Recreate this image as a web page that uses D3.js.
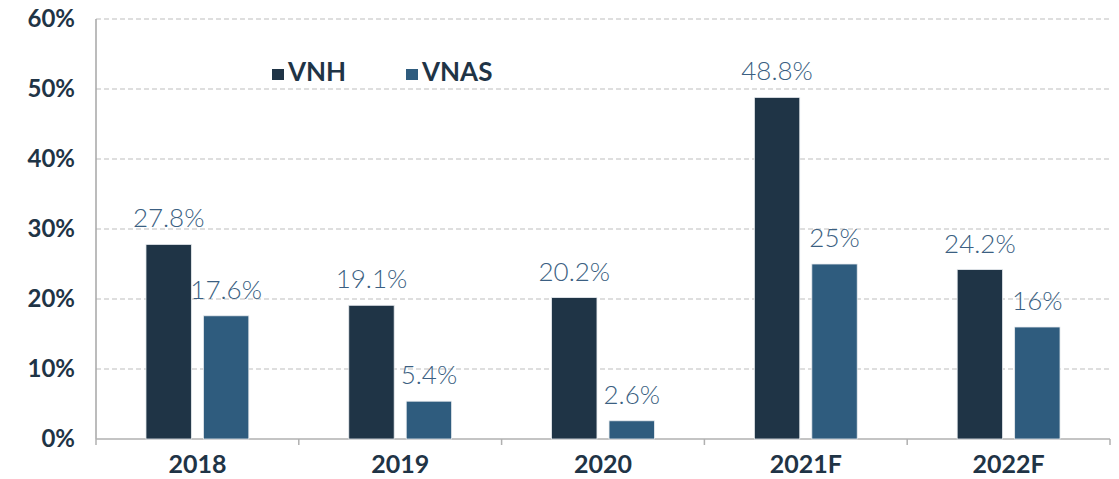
<!DOCTYPE html>
<html>
<head>
<meta charset="utf-8">
<script src="https://cdn.jsdelivr.net/npm/d3@7"></script>
<style>
  body { margin: 0; background: #fff; }
  svg { display: block; font-family: Lato, "Open Sans", sans-serif; }
</style>
</head>
<body>
<div id="chart"></div>
<script>
  // chart data
  const years = ["2018", "2019", "2020", "2021F", "2022F"];
  const seriesNames = ["VNH", "VNAS"];
  const vnh = [27.8, 19.1, 20.2, 48.8, 24.2];
  const vnas = [17.6, 5.4, 2.6, 25, 16];
  const yTicks = [0, 10, 20, 30, 40, 50, 60];

  const colors = ["#1f3446", "#2f5c7e"];

  const width = 1119, height = 479;
  const margin = {top: 19, right: 9, bottom: 40, left: 96};

  const svg = d3.select("#chart").append("svg")
    .attr("width", width)
    .attr("height", height);

  const x = d3.scaleBand()
    .domain(years)
    .range([margin.left, width - margin.right]);

  const x1 = d3.scaleBand()
    .domain(seriesNames)
    .range([0, x.bandwidth()])
    .paddingInner(0.21)
    .paddingOuter(0.87);

  const y = d3.scaleLinear()
    .domain([0, 60])
    .range([height - margin.bottom, margin.top]);

  // gridlines
  svg.append("g")
    .selectAll("line")
    .data(yTicks.filter(d => d > 0))
    .join("line")
      .attr("x1", margin.left)
      .attr("x2", width - margin.right)
      .attr("y1", d => y(d))
      .attr("y2", d => y(d))
      .attr("stroke", "#d4d4d4")
      .attr("stroke-width", 1.5)
      .attr("stroke-dasharray", "5,3");

  // y labels
  svg.append("g")
    .selectAll("text")
    .data(yTicks)
    .join("text")
      .attr("x", 75)
      .attr("y", d => y(d) + 8)
      .attr("text-anchor", "end")
      .attr("fill", "#1f3446")
      .style("font-size", "24px")
      .style("font-weight", "bold")
      .text(d => d + "%");

  // y axis line
  svg.append("line")
    .attr("x1", margin.left).attr("x2", margin.left)
    .attr("y1", margin.top).attr("y2", y(0))
    .attr("stroke", "#a6a6a6").attr("stroke-width", 1.5);

  // x axis
  const xAxis = d3.axisBottom(x).tickSize(0).tickFormat(d => d);
  const gx = svg.append("g")
    .attr("transform", `translate(0,${y(0)})`)
    .call(xAxis);
  gx.select(".domain").remove();
  gx.selectAll("text")
    .attr("dy", 0)
    .attr("y", 34)
    .attr("fill", "#1f3446")
    .style("font-family", "Lato, sans-serif")
    .style("font-size", "25px")
    .style("font-weight", "bold");

  svg.append("line")
    .attr("x1", margin.left).attr("x2", width - margin.right)
    .attr("y1", y(0)).attr("y2", y(0))
    .attr("stroke", "#b0b0b0").attr("stroke-width", 1.5);

  const bounds = years.map(d => x(d)).concat([x.range()[1]]);
  svg.append("g")
    .selectAll("line")
    .data(bounds)
    .join("line")
      .attr("x1", d => d).attr("x2", d => d)
      .attr("y1", y(0)).attr("y2", y(0) + 6)
      .attr("stroke", "#b0b0b0").attr("stroke-width", 1.5);

  // bars
  const data = years.map((yr, i) => ({year: yr, values: [
    {key: "VNH", value: vnh[i]},
    {key: "VNAS", value: vnas[i]}
  ]}));

  const groups = svg.append("g")
    .selectAll("g")
    .data(data)
    .join("g")
      .attr("transform", d => `translate(${x(d.year)},0)`);

  groups.selectAll("rect")
    .data(d => d.values)
    .join("rect")
      .attr("x", d => x1(d.key))
      .attr("y", d => y(d.value))
      .attr("width", x1.bandwidth())
      .attr("height", d => y(0) - y(d.value))
      .attr("fill", (d, i) => colors[i])
      .attr("stroke", "#e8ecef")
      .attr("stroke-width", 0.8);

  groups.selectAll("text")
    .data(d => d.values)
    .join("text")
      .attr("x", d => x1(d.key) + x1.bandwidth() / 2)
      .attr("y", d => y(d.value) - 17)
      .attr("text-anchor", "middle")
      .attr("fill", "#3b5f82")
      .style("font-size", "26px")
      .style("font-weight", 300)
      .text(d => d.value + "%");

  // legend
  const legendX = [272, 406];
  const legend = svg.append("g")
    .selectAll("g")
    .data(seriesNames)
    .join("g")
      .attr("transform", (d, i) => `translate(${legendX[i]},69)`);
  legend.append("rect")
    .attr("width", 12).attr("height", 11)
    .attr("fill", (d, i) => colors[i]);
  legend.append("text")
    .attr("x", 16)
    .attr("y", 12)
    .attr("fill", "#1f3446")
    .style("font-size", "26px")
    .style("font-weight", "bold")
    .text(d => d);
</script>
</body>
</html>
